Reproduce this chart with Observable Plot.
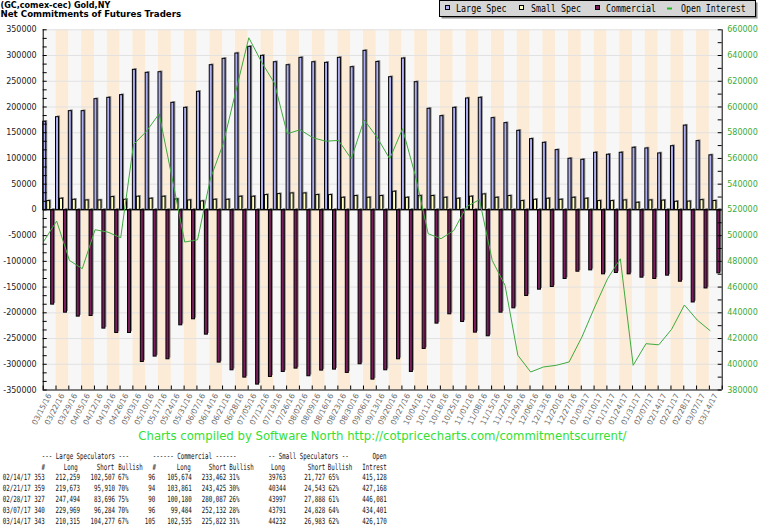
<!DOCTYPE html>
<html><head><meta charset="utf-8">
<script src="https://cdn.jsdelivr.net/npm/d3@7"></script>
<script src="https://cdn.jsdelivr.net/npm/@observablehq/plot@0.6"></script>
<style>
body{margin:0;background:#fff;}
#wrap{position:relative;width:765px;height:527px;overflow:hidden;background:#fff;}
#wrap > svg{position:absolute;left:0;top:0;}
</style></head><body><div id="wrap"></div>
<script>
const dates = ["03/15/16","03/22/16","03/29/16","04/05/16","04/12/16","04/19/16","04/26/16","05/03/16","05/10/16","05/17/16","05/24/16","05/31/16","06/07/16","06/14/16","06/21/16","06/28/16","07/05/16","07/12/16","07/19/16","07/26/16","08/02/16","08/09/16","08/16/16","08/23/16","08/30/16","09/06/16","09/13/16","09/20/16","09/27/16","10/04/16","10/11/16","10/18/16","10/25/16","11/01/16","11/08/16","11/15/16","11/22/16","11/29/16","12/06/16","12/13/16","12/20/16","12/27/16","01/03/17","01/10/17","01/17/17","01/24/17","01/31/17","02/07/17","02/14/17","02/21/17","02/28/17","03/07/17","03/14/17"];

const largeSpec = [171300,180200,191900,191900,215200,217800,223000,272200,266400,267600,208100,198400,229500,281200,293600,303900,316900,299400,287000,281200,295500,287000,285800,295500,277300,309100,287600,257900,294200,248200,196500,182200,198400,216500,217800,178300,168600,153700,137500,130400,116200,99400,97400,111000,107200,111000,120800,119400,109752,123763,163798,133685,106038];
const smallSpec = [17100,21700,19700,18400,18400,24900,19700,25600,21700,25600,20400,18400,16500,19700,19700,25600,25600,28800,30700,32000,32000,28800,28800,23600,26900,23600,26900,35300,23600,26900,26900,23600,21700,25600,30100,23600,26900,17100,19700,21700,19700,23600,21700,17100,17100,18400,13900,18400,18036,15801,16109,18963,17249];
const commercial = [-184100,-199700,-207400,-206200,-230700,-239200,-239200,-295500,-285100,-290300,-224300,-212600,-242400,-296700,-311700,-325900,-339500,-324600,-314900,-308400,-323300,-312300,-310400,-316800,-300000,-329800,-311700,-290300,-314900,-270200,-221000,-202900,-217800,-238500,-245600,-199700,-191300,-167300,-155000,-149800,-134300,-120100,-117500,-125200,-122600,-125200,-131700,-134300,-127788,-139564,-179907,-152648,-123287];
const openInterest = [495700,511300,480700,474300,504600,502700,498400,570800,581000,594700,545400,495000,496800,544200,571400,612800,653800,634800,618500,579200,582300,576100,573400,574000,559700,590000,576600,559700,583100,546600,501500,497600,504000,522500,528000,480700,461300,407000,394000,397900,399200,401800,421200,444500,466500,482000,399200,416000,415128,427168,446081,434401,426170];

const leftTicks = [-350000,-300000,-250000,-200000,-150000,-100000,-50000,0,50000,100000,150000,200000,250000,300000,350000];
const rightTicks = [380000,400000,420000,440000,460000,480000,500000,520000,540000,560000,580000,600000,620000,640000,660000];

const seriesNames = ["Large Spec","Small Spec","Commercial","Open Interest"];

const tableDates = ["02/14/17","02/21/17","02/28/17","03/07/17","03/14/17"];
const lsTraders = [353,359,327,340,343];
const lsLong = [212259,219673,247494,229969,210315];
const lsShort = [102507,95910,83696,96284,104277];
const lsBullish = [67,70,75,70,67];
const cmTraders = [96,94,90,96,105];
const cmLong = [105674,103861,100180,99484,102535];
const cmShort = [233462,243425,280087,252132,225822];
const cmBullish = [31,30,26,28,31];
const ssLong = [39763,40344,43997,43791,44232];
const ssShort = [21727,24543,27888,24828,26983];
const ssBullish = [65,62,61,64,62];
const oiTable = [415128,427168,446081,434401,426170];

const W = 765, H = 430;
const LEFT = 42.7, RIGHT = 721.7, TOP = 29.3, BOTTOM = 389.5;
const N = dates.length;
const idx = d3.range(N);
const oiToY = v => (v - 520000) * 2.5;
const yToOi = v => Math.round(v / 2.5 + 520000);
const px2x = N / (RIGHT - LEFT);
const px2y = 700000 / (BOTTOM - TOP);

const C_LARGE = "#aeaef0", C_SMALL = "#ffffc0", C_COMM = "#7a1d5c", C_OI = "#3faa3f", C_SHADOW = "#8a8a8a";

function bars(values, off, fill) {
  const w = 0.235;
  return [
    Plot.rect(idx, {x1: i => i + off, x2: i => i + off + w, y1: 0, y2: i => values[i], fill: C_SHADOW, dx: 1.5, dy: -1.2}),
    Plot.rect(idx, {x1: i => i + off, x2: i => i + off + w, y1: 0, y2: i => values[i], fill, stroke: "#000", strokeWidth: 1})
  ];
}

const chart = Plot.plot({
  width: W, height: H,
  marginLeft: LEFT, marginRight: W - RIGHT, marginTop: TOP, marginBottom: H - BOTTOM,
  x: {type: "linear", domain: [0, N], axis: null},
  y: {domain: [-350000, 350000], axis: null},
  style: {fontFamily: "DejaVu Sans", fontSize: "8px", background: "transparent", overflow: "visible"},
  marks: [
    Plot.rect(idx.filter(i => i % 2 === 0), {x1: i => i, x2: i => i + 1, y1: -350000, y2: 350000, fill: "#f7f7f7"}),
    Plot.rect(idx.filter(i => i % 2 === 1), {x1: i => i, x2: i => i + 1, y1: -350000, y2: 350000, fill: "#fbebd7"}),
    Plot.ruleY(leftTicks.filter(v => v !== 0 && v !== -350000), {stroke: "#e2e2e2", strokeWidth: 1}),
    ...bars(largeSpec, 0.0, C_LARGE),
    ...bars(smallSpec, 0.31, C_SMALL),
    ...bars(commercial, 0.62, C_COMM),
    Plot.ruleY([0], {stroke: "#000", strokeWidth: 1}),
    Plot.line(idx, {x: i => i + 0.05, y: i => oiToY(openInterest[i]), stroke: C_OI, strokeWidth: 1}),
    Plot.ruleX([0, N], {stroke: "#000", strokeWidth: 1}),
    Plot.ruleY([-350000], {stroke: "#000", strokeWidth: 1}),
    Plot.ruleY(d3.range(-350000, 350001, 50000 / 3), {x1: 0, x2: 4 * px2x, stroke: "#000"}),
    Plot.ruleY(d3.range(380000, 660001, 10000).map(oiToY), {x1: N - 4 * px2x, x2: N, stroke: "#000"}),
    Plot.ruleX(d3.range(0, N + 1), {y1: -350000, y2: -350000 + 4 * px2y, stroke: "#000"}),
    Plot.axisY(leftTicks, {anchor: "left", tickSize: 0, tickPadding: 6.5, tickFormat: d => String(d), fontSize: 8, color: "#222", label: null}),
    Plot.axisY(rightTicks.map(oiToY), {anchor: "right", tickSize: 0, tickPadding: 5, tickFormat: v => String(yToOi(v)), fontSize: 8, color: "#3aaa3a", label: null}),
    Plot.text(idx, {x: i => i + 0.5, y: -350000 - 4 * px2y, text: i => dates[i], rotate: -63, textAnchor: "end", fontSize: 7.6, fill: "#666"})
  ]
});

const wrap = document.getElementById("wrap");
wrap.appendChild(chart);

// Overlay: title, legend, caption, table
const ov = d3.select(wrap).append("svg").attr("width", 765).attr("height", 527)
  .style("position", "absolute").style("left", 0).style("top", 0);

// place text with its left edge at x (or right edge if anchor "end"), horizontally scaled to width `len`
function txt(x, y, s, opts = {}) {
  const t = ov.append("text").attr("x", 0).attr("y", 0).text(s)
    .attr("font-family", opts.family || "DejaVu Sans Mono")
    .attr("font-size", opts.size || 9)
    .attr("fill", opts.fill || "#000");
  if (opts.weight) t.attr("font-weight", opts.weight);
  const nat = t.node().getComputedTextLength() || 1;
  const len = opts.len || nat;
  const k = len / nat;
  const x0 = opts.anchor === "end" ? x - len : x;
  t.attr("transform", `translate(${x0},${y}) scale(${k},1)`);
  return t;
}

// title
txt(0.5, 7.6, "(GC,comex-cec) Gold,NY", {family: "DejaVu Sans", size: 8, weight: "bold", len: 110});
txt(0.5, 17, "Net Commitments of Futures Traders", {family: "DejaVu Sans", size: 8, weight: "bold", len: 181});

// legend
ov.append("rect").attr("x", 441.5).attr("y", 2.5).attr("width", 316).attr("height", 16).attr("fill", "#888");
ov.append("rect").attr("x", 439.5).attr("y", 0.5).attr("width", 316).attr("height", 16).attr("fill", "#d6d6d6").attr("stroke", "#000");
const legendMarkers = [[445.5, C_LARGE], [519.5, C_SMALL], [595.5, C_COMM]];
legendMarkers.forEach(([x, c]) => ov.append("rect").attr("x", x).attr("y", 5.5).attr("width", 4).attr("height", 4).attr("fill", c).attr("stroke", "#000"));
ov.append("line").attr("x1", 667).attr("x2", 672).attr("y1", 8.5).attr("y2", 8.5).attr("stroke", "#22bb22").attr("stroke-width", 2);
const legendX = [456, 531, 606, 681];
const legendLen = [50.5, 50, 50, 64.7];
seriesNames.forEach((s, i) => txt(legendX[i], 11.8, s, {size: 10.5, len: legendLen[i]}));

// caption
txt(138.3, 439.5, "Charts compiled by Software North  http://cotpricecharts.com/commitmentscurrent/", {family: "DejaVu Sans", size: 11.5, fill: "#33e033", len: 488.4});

// table
const CW = 3.5;
const cell = (x, y, s, anchor) => txt(x, y, s, {size: 8.5, len: s.length * CW, fill: "#111", anchor});
const fmt = d3.format(",");
cell(41.7, 459, "--- Large Speculators ---", "start");
cell(152.7, 459, "------ Commercial ------", "start");
cell(268.3, 459, "-- Small Speculators --", "start");
cell(386.5, 459, "Open", "end");
cell(45, 470, "#", "end");
cell(77.7, 470, "Long", "end");
cell(114.3, 470, "Short", "end");
cell(118.3, 470, "Bullish", "start");
cell(156, 470, "#", "end");
cell(190.7, 470, "Long", "end");
cell(226.3, 470, "Short", "end");
cell(229.3, 470, "Bullish", "start");
cell(285, 470, "Long", "end");
cell(325.2, 470, "Short", "end");
cell(327.7, 470, "Bullish", "start");
cell(386.7, 470, "Intrest", "end");
tableDates.forEach((d, r) => {
  const y = 479.8 + r * 11;
  cell(2.7, y, d, "start");
  cell(44.7, y, String(lsTraders[r]), "end");
  cell(80, y, fmt(lsLong[r]), "end");
  cell(115, y, fmt(lsShort[r]), "end");
  cell(118, y, lsBullish[r] + "%", "start");
  cell(155.3, y, String(cmTraders[r]), "end");
  cell(191.7, y, fmt(cmLong[r]), "end");
  cell(226.3, y, fmt(cmShort[r]), "end");
  cell(229, y, cmBullish[r] + "%", "start");
  cell(286, y, String(ssLong[r]), "end");
  cell(325.2, y, fmt(ssShort[r]), "end");
  cell(328.5, y, ssBullish[r] + "%", "start");
  cell(386.7, y, fmt(oiTable[r]), "end");
});
</script></body></html>
